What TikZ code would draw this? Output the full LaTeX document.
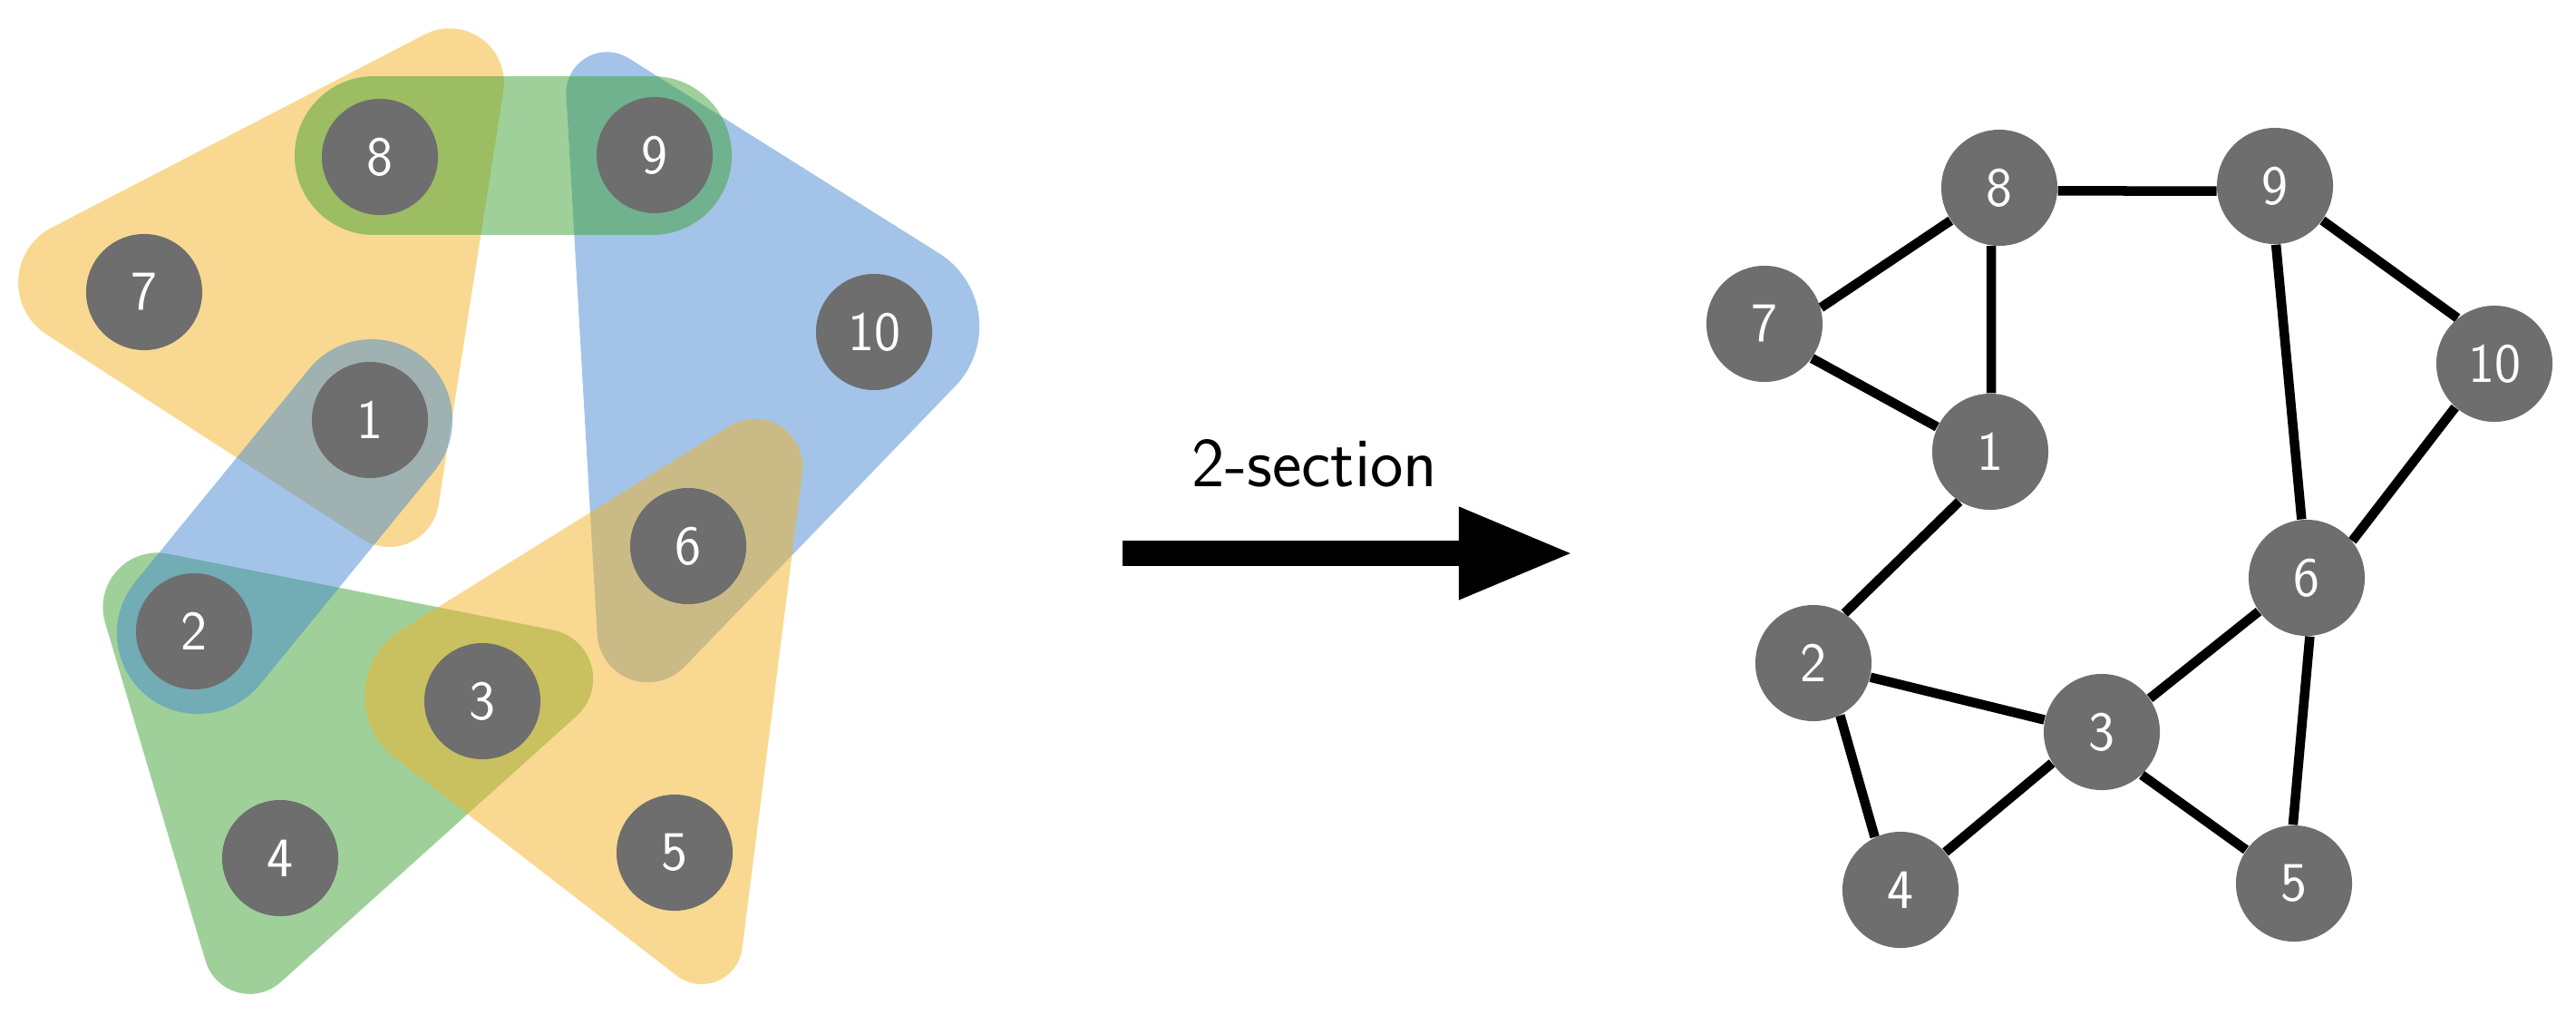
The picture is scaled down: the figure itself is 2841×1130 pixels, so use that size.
\documentclass[tikz,border=0pt]{standalone}
\usepackage{fontspec}
\usetikzlibrary{calc,arrows.meta,backgrounds}
\definecolor{hor}{RGB}{243,179,37}
\definecolor{hgr}{RGB}{63,161,53}
\definecolor{hbl}{RGB}{71,137,209}
\definecolor{vgray}{RGB}{110,110,110}
\begin{document}
\begin{tikzpicture}[x=0.01cm,y=-0.01cm,
  vtx/.style={circle, fill=vgray, minimum size=1.28cm, inner sep=0pt, text=white,
              font=\sffamily\fontsize{17.5}{20}\selectfont},
  hyp/.style={opacity=0.5},
  gedge/.style={line width=0.105cm, black}]
\useasboundingbox (0,0) rectangle (2841,1130);

% ---------- hyperedges (left) ----------
% orange {7,8,1}
\fill[hor,hyp] ($(495.9,91.3)+(242.6:60)$) arc[start angle=242.6,end angle=368.9,radius=60]
  -- ($(429.3,548.0)+(8.9:55)$) arc[start angle=8.9,end angle=123.0,radius=55]
  -- ($(88.1,311.4)+(123.0:68)$) arc[start angle=123.0,end angle=242.6,radius=68] -- cycle;
% blue {9,10,6}
\fill[hbl,hyp] ($(985.2,359.7)+(302.1:95)$) arc[start angle=302.1,end angle=404.0,radius=95]
  -- ($(714.5,696.3)+(44.0:56)$) arc[start angle=44.0,end angle=176.7,radius=56]
  -- ($(669.4,102.3)+(176.7:45)$) arc[start angle=176.7,end angle=302.1,radius=45] -- cycle;
% green {8,9}
\draw[hgr,hyp,line width=1.74cm,line cap=round] (412,171.5) -- (720,171.5);
% green {2,3,4}
\fill[hgr,hyp] ($(599.2,748.4)+(281.2:55)$) arc[start angle=281.2,end angle=408.1,radius=55]
  -- ($(275.5,1044.8)+(48.1:51)$) arc[start angle=48.1,end angle=163.4,radius=51]
  -- ($(173.5,669.4)+(163.4:60)$) arc[start angle=163.4,end angle=281.2,radius=60] -- cycle;
% blue {1,2}
\draw[hbl,hyp,line width=1.78cm,line cap=round] (410,463) -- (218,698);
% orange {3,5,6}
\fill[hor,hyp] ($(832.4,514.7)+(238.1:53)$) arc[start angle=238.1,end angle=367.2,radius=53]
  -- ($(773.9,1040.0)+(7.2:45)$) arc[start angle=7.2,end angle=127.7,radius=45]
  -- ($(488.1,767.4)+(127.7:86)$) arc[start angle=127.7,end angle=238.1,radius=86] -- cycle;

% ---------- left vertices ----------
\node[vtx] (l1) at (408,463) {1};
\node[vtx] (l2) at (214,696) {2};
\node[vtx] (l3) at (532,773) {3};
\node[vtx] (l4) at (309,946) {4};
\node[vtx] (l5) at (744,940) {5};
\node[vtx] (l6) at (759,602) {6};
\node[vtx] (l7) at (159,322) {7};
\node[vtx] (l8) at (419,173) {8};
\node[vtx] (l9) at (722,171) {9};
\node[vtx] (l10) at (964,366) {10};

% ---------- arrow ----------
\coordinate (as) at (1238,610);
\coordinate (ae) at (1736,610);
\draw[line width=0.28cm,-{Triangle[length=1.27cm,width=0.94cm]}] (as) -- (ae);
\node[anchor=base,font=\sffamily\fontsize{22}{26}\selectfont] (lab) at (1450,536) {2-section};

% ---------- right graph ----------
\node[vtx] (r1) at (2195,498) {1};
\node[vtx] (r2) at (2000,731) {2};
\node[vtx] (r3) at (2318,807) {3};
\node[vtx] (r4) at (2096,981) {4};
\node[vtx] (r5) at (2530,974) {5};
\node[vtx] (r6) at (2544,637) {6};
\node[vtx] (r7) at (1946,357) {7};
\node[vtx] (r8) at (2205,207) {8};
\node[vtx] (r9) at (2509,205) {9};
\node[vtx] (r10) at (2751,401) {10};
\begin{scope}[on background layer]
\draw[gedge] (r8.-3) -- (r9.185);
\draw[gedge] (r7.16) -- (r8.214);
\draw[gedge] (r7.324) -- (r1.155);
\draw[gedge] (r8.262) -- (r1.89);
\draw[gedge] (r9.324) -- (r10.129);
\draw[gedge] (r9.271) -- (r6.95);
\draw[gedge] (r10.228) -- (r6.39);
\draw[gedge] (r1.238) -- (r2.58.6);
\draw[gedge] (r2.346) -- (r3.168);
\draw[gedge] (r2.297) -- (r4.116);
\draw[gedge] (r3.212) -- (r4.40);
\draw[gedge] (r3.35) -- (r6.215);
\draw[gedge] (r3.313) -- (r5.145);
\draw[gedge] (r6.273) -- (r5.91);
\end{scope}
\end{tikzpicture}
\end{document}
